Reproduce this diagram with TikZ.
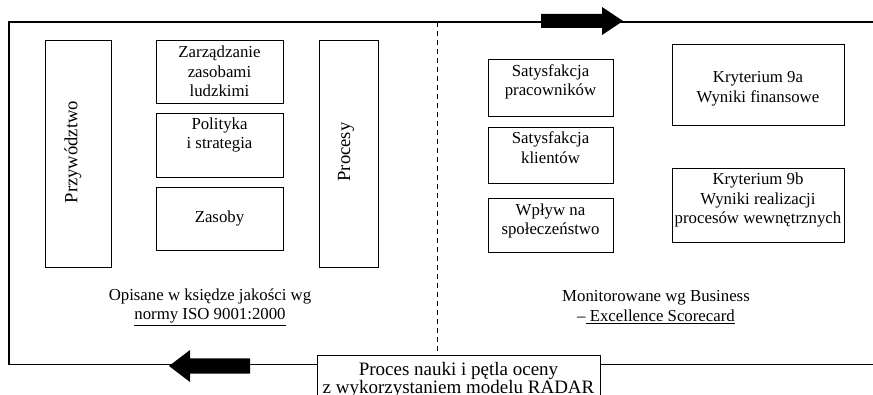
\documentclass[tikz,border=0pt]{standalone}
\usepackage{fontspec}
\setmainfont{Liberation Serif}
\begin{document}
\begin{tikzpicture}[x=1pt,y=-1pt,
  cell/.style={draw, line width=1.1pt, inner sep=0pt, anchor=north west},
  txt/.style={align=center, inner sep=0pt, font=\fontsize{16.8}{19.5}\selectfont},
  bigtxt/.style={align=center, inner sep=0pt, font=\fontsize{18.6}{19.5}\selectfont},
  frame/.style={line width=1.1pt},
  divider/.style={line width=0.9pt, dash pattern=on 5pt off 4pt}]
\clip (0,0) rectangle (873,395);

% left half: areas described in the quality manual
\node[cell, minimum width=66, minimum height=227] (lead) at (45,40) {};
\node[bigtxt, rotate=90] (leadtxt) at (73,152) {Przywództwo};
\node[cell, minimum width=127, minimum height=63] (hr) at (156,40) {};
\node[txt] (hrtxt) at (219.5,71.5) {Zarządzanie\\zasobami\\ludzkimi};
\node[cell, minimum width=127, minimum height=64] (pol) at (156,113) {};
\node[txt] (poltxt) at (219.5,135) {Polityka\\i strategia};
\node[cell, minimum width=127, minimum height=63] (res) at (156,187) {};
\node[txt] (restxt) at (219.5,218) {Zasoby};
\node[cell, minimum width=59, minimum height=227] (proc) at (319,40) {};
\node[bigtxt, rotate=90] (proctxt) at (346,152) {Procesy};
\node[txt] (iso) at (210,307) {Opisane w księdze jakości wg\\\underline{normy ISO 9001:2000}};

% right half: results monitored with the scorecard
\node[cell, minimum width=125, minimum height=57] (emp) at (488,59) {};
\node[txt] (emptxt) at (550.5,82) {Satysfakcja\\pracowników};
\node[cell, minimum width=125, minimum height=56] (cli) at (488,127) {};
\node[txt] (clitxt) at (550.5,147.5) {Satysfakcja\\klientów};
\node[cell, minimum width=125, minimum height=54] (soc) at (488,198) {};
\node[txt] (soctxt) at (550.5,221) {Wpływ na\\społeczeństwo};
\node[cell, minimum width=172, minimum height=81] (fin) at (672,44) {};
\node[txt] (fintxt) at (758,89) {Kryterium 9a\\Wyniki finansowe};
\node[cell, minimum width=172, minimum height=74] (int) at (672,168) {};
\node[txt] (inttxt) at (758,200) {Kryterium 9b\\Wyniki realizacji\\procesów wewnętrznych};
\node[txt] (bes) at (656,307) {Monitorowane wg Business\\–\underline{\ Excellence Scorecard}};

% learning loop box on the lower edge of the frame
\node[cell, fill=white, minimum width=283, minimum height=60] (radar) at (317,355) {};
\node[align=center, inner sep=0pt, font=\fontsize{19}{18.5}\selectfont] (radartxt) at (458.5,380)
  {Proces nauki i pętla oceny\\z wykorzystaniem modelu RADAR};

% outer frame and divider
\coordinate (ftr) at (890,22);
\coordinate (ftl) at (9,22);
\coordinate (fbl) at (9,364.5);
\coordinate (fbr) at (890,364.5);
\coordinate (divtop) at (437,22);
\draw[frame] (ftr) -- (ftl) -- (fbl) -- (fbl -| radar.west);
\draw[frame] (fbl -| radar.east) -- (fbr);
\draw[divider] (divtop) -- (divtop |- radar.north);

% direction arrows of the loop
\fill (541,14) -- (602,14) -- (602,7) -- (623,21) -- (602,35) -- (602,28) -- (541,28) -- cycle;
\fill (250,358.5) -- (190,358.5) -- (190,350) -- (169,366) -- (190,382) -- (190,373.5) -- (250,373.5) -- cycle;
\end{tikzpicture}
\end{document}
